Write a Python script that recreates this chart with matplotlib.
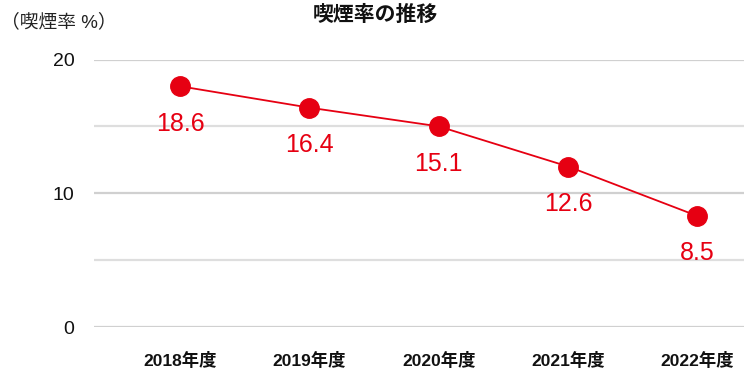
import numpy as np
import matplotlib
matplotlib.use("Agg")
import matplotlib.pyplot as plt

plt.rcParams['font.family'] = ['Liberation Sans', 'Noto Sans CJK JP', 'DejaVu Sans']

# data
years = ['2018年度', '2019年度', '2020年度', '2021年度', '2022年度']
rate_plot = [18.0, 16.4, 15.0, 12.0, 8.3]      # marker heights as drawn
rate_labels = ['18.6', '16.4', '15.1', '12.6', '8.5']
y_ticks = [0, 10, 20]

red = '#e60012'

fig = plt.figure(figsize=(7.5, 3.8), dpi=100)
ax = fig.add_axes([94 / 750, 1 - 327 / 380, 650 / 750, 267.5 / 380])

x = np.arange(len(years))
ax.plot(x, rate_plot, color=red, lw=1.3, marker='o', ms=14, zorder=3, clip_on=False)

for xi, yi, lab in zip(x, rate_plot, rate_labels):
    ax.annotate(lab, (xi, yi), xytext=(0, -27), textcoords='offset points',
                ha='center', va='center', color=red, fontsize=18)

ax.set_xlim(-0.665, 4.36)
ax.set_ylim(0, 20)
ax.set_yticks(y_ticks)
ax.set_yticks([5, 15], minor=True)
ax.set_xticks(x)
ax.set_xticklabels(years, fontsize=12.5, fontweight='bold', color='#111111')
ax.tick_params(axis='x', length=0, pad=18)
ax.tick_params(axis='y', which='both', length=0, pad=14, labelsize=14, labelcolor='#111111')
ax.grid(axis='y', which='major', color='#d0d0d0', lw=1.6)
ax.grid(axis='y', which='minor', color='#dedede', lw=1.6)
ax.set_axisbelow(True)
for s in ax.spines.values():
    s.set_visible(False)

fig.text(375 / 750, 1 - 15 / 380, '喫煙率の推移', ha='center', va='center',
         fontsize=15, fontweight='bold', color='#111111')
fig.text(0.001, 1 - 22 / 380, '（喫煙率 %）', ha='left', va='center',
         fontsize=13.5, color='#222222')

fig.savefig('out.png', dpi=100)
